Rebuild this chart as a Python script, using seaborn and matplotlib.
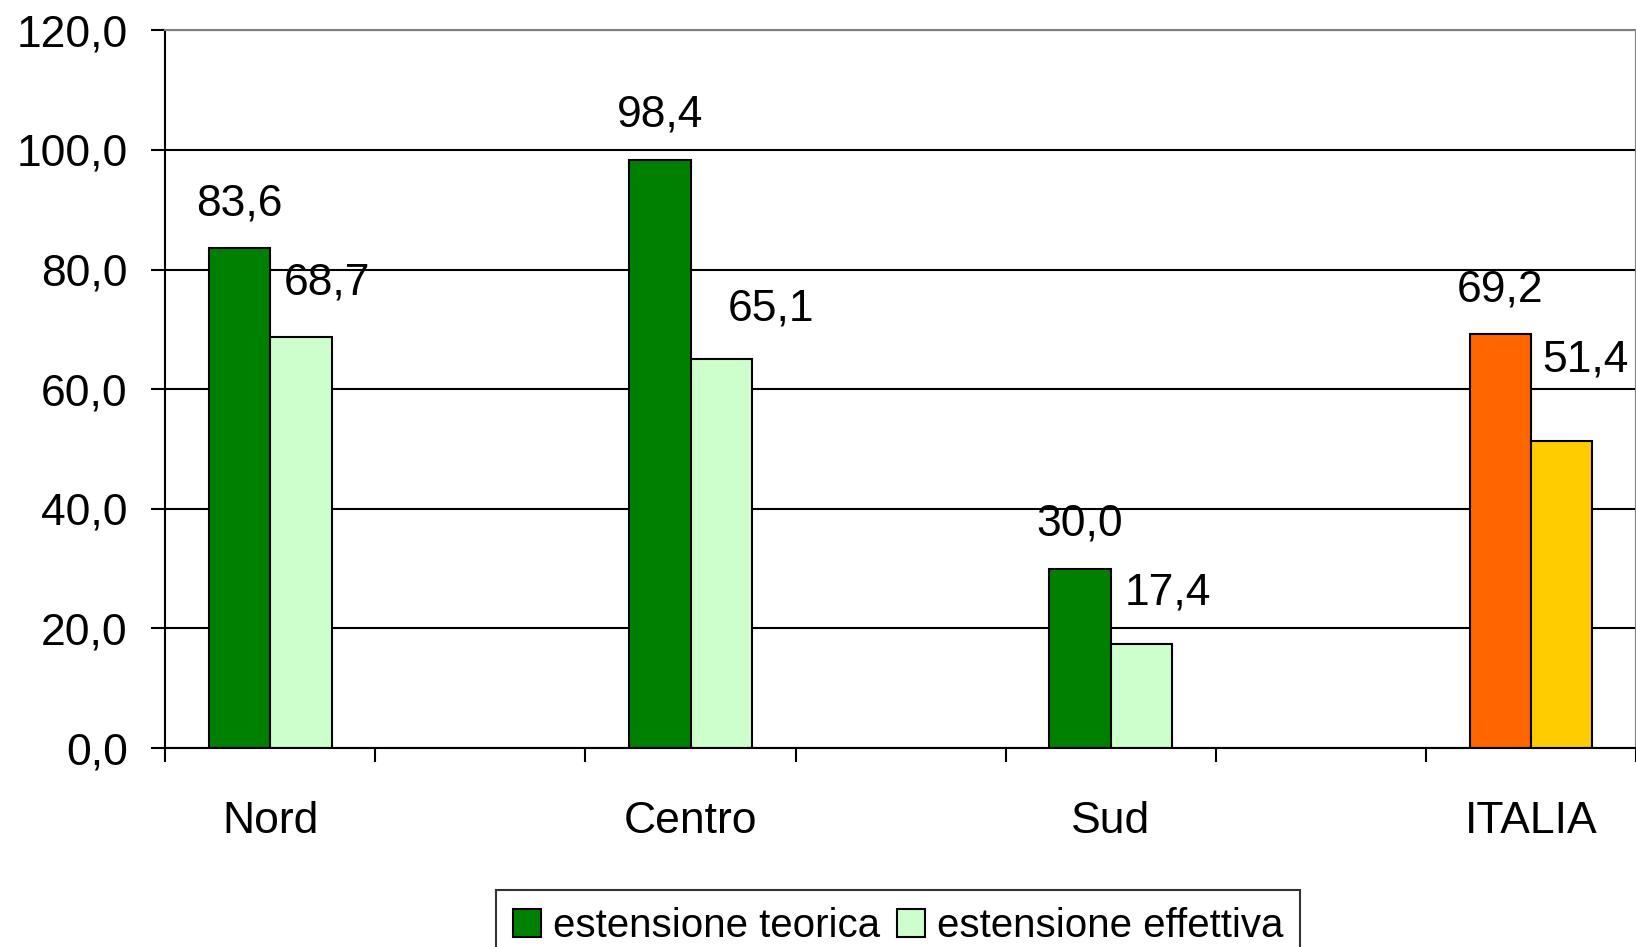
import numpy as np
import pandas as pd
import seaborn as sns
import matplotlib.pyplot as plt

regions = ['Nord', 'Centro', 'Sud', 'ITALIA']
teorica = [83.6, 98.4, 30.0, 69.2]
effettiva = [68.7, 65.1, 17.4, 51.4]
series = ['estensione teorica', 'estensione effettiva']

# empty slots between the regions, like the original sheet
order = ['Nord', '_gap1', 'Centro', '_gap2', 'Sud', '_gap3', 'ITALIA']

df = pd.DataFrame({
    'region': regions * 2,
    'serie': [series[0]] * 4 + [series[1]] * 4,
    'valore': teorica + effettiva,
})

sns.set_theme(style="white")
plt.rcParams['font.family'] = ['Liberation Sans', 'DejaVu Sans']
plt.rcParams['text.color'] = 'black'
plt.rcParams['xtick.color'] = 'black'
plt.rcParams['ytick.color'] = 'black'
plt.rcParams['axes.labelcolor'] = 'black'

fig = plt.figure(figsize=(16.36, 9.47), dpi=100)
ax = fig.add_axes([0.101, 0.21, 0.899, 0.758])

palette = {series[0]: '#008000', series[1]: '#CCFFCC'}
sns.barplot(data=df, x='region', y='valore', hue='serie', order=order,
            hue_order=series, palette=palette, width=0.584, dodge=True,
            edgecolor='black', linewidth=1.5, saturation=1, ax=ax, legend=False)

# ITALIA bars in orange / yellow
italia_pos = order.index('ITALIA')
for i, cont in enumerate(ax.containers):
    for bar in cont:
        cx = bar.get_x() + bar.get_width() / 2
        if abs(cx - italia_pos) < 0.5:
            bar.set_facecolor('#FF6600' if i == 0 else '#FFCC00')

# value labels (the light ones were dragged around a bit in the original)
light_nudge = [(19, 39), (36, 36), (19, 37), (17, 58)]
for i, cont in enumerate(ax.containers):
    vals = teorica if i == 0 else effettiva
    for j, (bar, v) in enumerate(zip(cont, vals)):
        cx = bar.get_x() + bar.get_width() / 2
        off = (0, 32) if i == 0 else light_nudge[j]
        ax.annotate(f"{v:.1f}".replace('.', ','), (cx, bar.get_height()),
                    xytext=off, textcoords='offset points',
                    ha='center', va='center', fontsize=32)

ax.set_ylim(0, 120)
ax.set_xlim(-0.5, len(order) - 0.5)
yt = np.arange(0, 121, 20)
ax.set_yticks(yt)
ax.set_yticklabels([f"{v:.1f}".replace('.', ',') for v in yt], fontsize=32)
ax.tick_params(axis='y', direction='out', length=10, width=1.5, pad=17,
               left=True, color='black')

ax.set_xticks(np.arange(-0.5, len(order), 1.0))
ax.set_xticklabels([])
ax.tick_params(axis='x', which='major', direction='out', length=10, width=1.5,
               bottom=True, color='black')
ax.set_xticks([order.index(r) for r in regions], minor=True)
ax.set_xticklabels(regions, minor=True, fontsize=32)
ax.tick_params(axis='x', which='minor', length=0, pad=38)

ax.grid(True, axis='y', color='black', linewidth=1.5)
ax.set_axisbelow(True)
ax.set_xlabel('')
ax.set_ylabel('')
for s in ['left', 'bottom']:
    ax.spines[s].set_color('black')
    ax.spines[s].set_linewidth(1.5)
for s in ['top', 'right']:
    ax.spines[s].set_color('#808080')
    ax.spines[s].set_linewidth(1.5)

handles = [plt.Rectangle((0, 0), 1, 1, facecolor=palette[s], edgecolor='black', linewidth=1.5)
           for s in series]
leg = fig.legend(handles, series, loc='upper center', bbox_to_anchor=(0.549, 0.06),
                 ncol=2, fontsize=29, frameon=True, fancybox=False, borderaxespad=0,
                 handlelength=0.7, handleheight=0.7, handletextpad=0.3,
                 columnspacing=0.4, borderpad=0.42)
leg.get_frame().set_edgecolor('black')
leg.get_frame().set_linewidth(1.5)

fig.savefig('out.png', dpi=100)
